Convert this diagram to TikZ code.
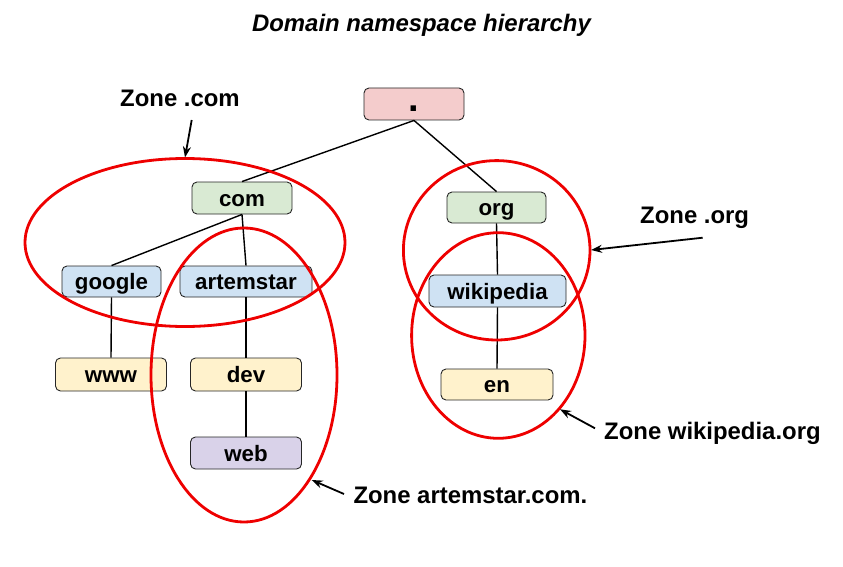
\documentclass[tikz,border=0pt]{standalone}
\usepackage{fontspec}
\setmainfont{Liberation Sans}
\usetikzlibrary{arrows.meta}
\definecolor{cpink}{HTML}{F4CCCC}
\definecolor{cgreen}{HTML}{D9EAD3}
\definecolor{cblue}{HTML}{CFE2F3}
\definecolor{cyellow}{HTML}{FFF2CC}
\definecolor{cpurple}{HTML}{D9D2E9}
\definecolor{zred}{HTML}{EE0000}
\tikzset{
  dom/.style={draw=black!85, line width=0.9pt, rounded corners=5pt,
    inner sep=0pt, text height=16pt, text depth=0pt,
    font=\fontsize{22.3}{24}\selectfont\bfseries},
  zone/.style={draw=zred, line width=2.8pt},
  zlabel/.style={anchor=base west, inner sep=0pt, font=\fontsize{23.9}{26}\selectfont\bfseries},
  zarrow/.style={line width=1.8pt, -{Stealth[length=11pt,width=8pt]}},
  edge/.style={line width=1.4pt, black}
}
\begin{document}
\begin{tikzpicture}[x=1pt,y=-1pt]
\useasboundingbox (0,0) rectangle (843,567);
% title
\node[anchor=base, inner sep=0pt, font=\fontsize{23.9}{26}\selectfont\bfseries\itshape] (title) at (421.5,32) {Domain namespace hierarchy};
% nodes
\node[dom, fill=cpink, minimum width=100pt, minimum height=32pt] (root) at (414,104) {\fontsize{38}{40}\selectfont .};
\node[dom, fill=cgreen, minimum width=100pt, minimum height=32pt] (com) at (242,198) {com};
\node[dom, fill=cgreen, minimum width=99pt, minimum height=31pt] (org) at (496.5,207.5) {org};
\node[dom, fill=cblue, minimum width=99pt, minimum height=31pt] (google) at (111.5,281.5) {google};
\node[dom, fill=cblue, minimum width=132pt, minimum height=31pt] (artemstar) at (246,281.5) {artemstar};
\node[dom, fill=cblue, minimum width=137pt, minimum height=32pt] (wikipedia) at (497.5,291) {wikipedia};
\node[dom, fill=cyellow, minimum width=111pt, minimum height=33pt] (www) at (111,374.5) {www};
\node[dom, fill=cyellow, minimum width=111pt, minimum height=33pt] (dev) at (246,374.5) {dev};
\node[dom, fill=cpurple, minimum width=111pt, minimum height=32pt] (web) at (246,453) {web};
\node[dom, fill=cyellow, minimum width=112pt, minimum height=31pt] (en) at (497,384.5) {en};
% edges
\draw[edge] (root.south) -- (com.north);
\draw[edge] (root.south) -- (org.north);
\draw[edge] (com.south) -- (google.north);
\draw[edge] (com.south) -- (artemstar.north);
\draw[edge] (google.south) -- (www.north);
\draw[edge] (artemstar.south) -- (dev.north);
\draw[edge] (dev.south) -- (web.north);
\draw[edge] (org.south) -- (wikipedia.north);
\draw[edge] (wikipedia.south) -- (en.north);
% zones
\draw[zone] (185,242.5) ellipse [x radius=160, y radius=84];
\draw[zone] (244,375) ellipse [x radius=93, y radius=147];
\draw[zone] (496.7,250.3) ellipse [x radius=93.3, y radius=89.7];
\draw[zone] (498.3,335.5) ellipse [x radius=86.7, y radius=102.8];
% zone labels
\node[zlabel] (lcom) at (120,106.7) {Zone .com};
\node[zlabel] (lorg) at (640,223.3) {Zone .org};
\node[zlabel] (lwiki) at (604,439) {Zone wikipedia.org};
\node[zlabel] (lart) at (353.3,503.3) {Zone artemstar.com.};
% arrows
\coordinate (tcom) at (191.7,120);
\coordinate (hcom) at (185,157.5);
\coordinate (torg) at (702.7,237.7);
\coordinate (horg) at (591,250);
\coordinate (twiki) at (595,428.3);
\coordinate (hwiki) at (560,409.3);
\coordinate (tart) at (344,494);
\coordinate (hart) at (311.7,480);
\draw[zarrow] (tcom) -- (hcom);
\draw[zarrow] (torg) -- (horg);
\draw[zarrow] (twiki) -- (hwiki);
\draw[zarrow] (tart) -- (hart);
\end{tikzpicture}
\end{document}
